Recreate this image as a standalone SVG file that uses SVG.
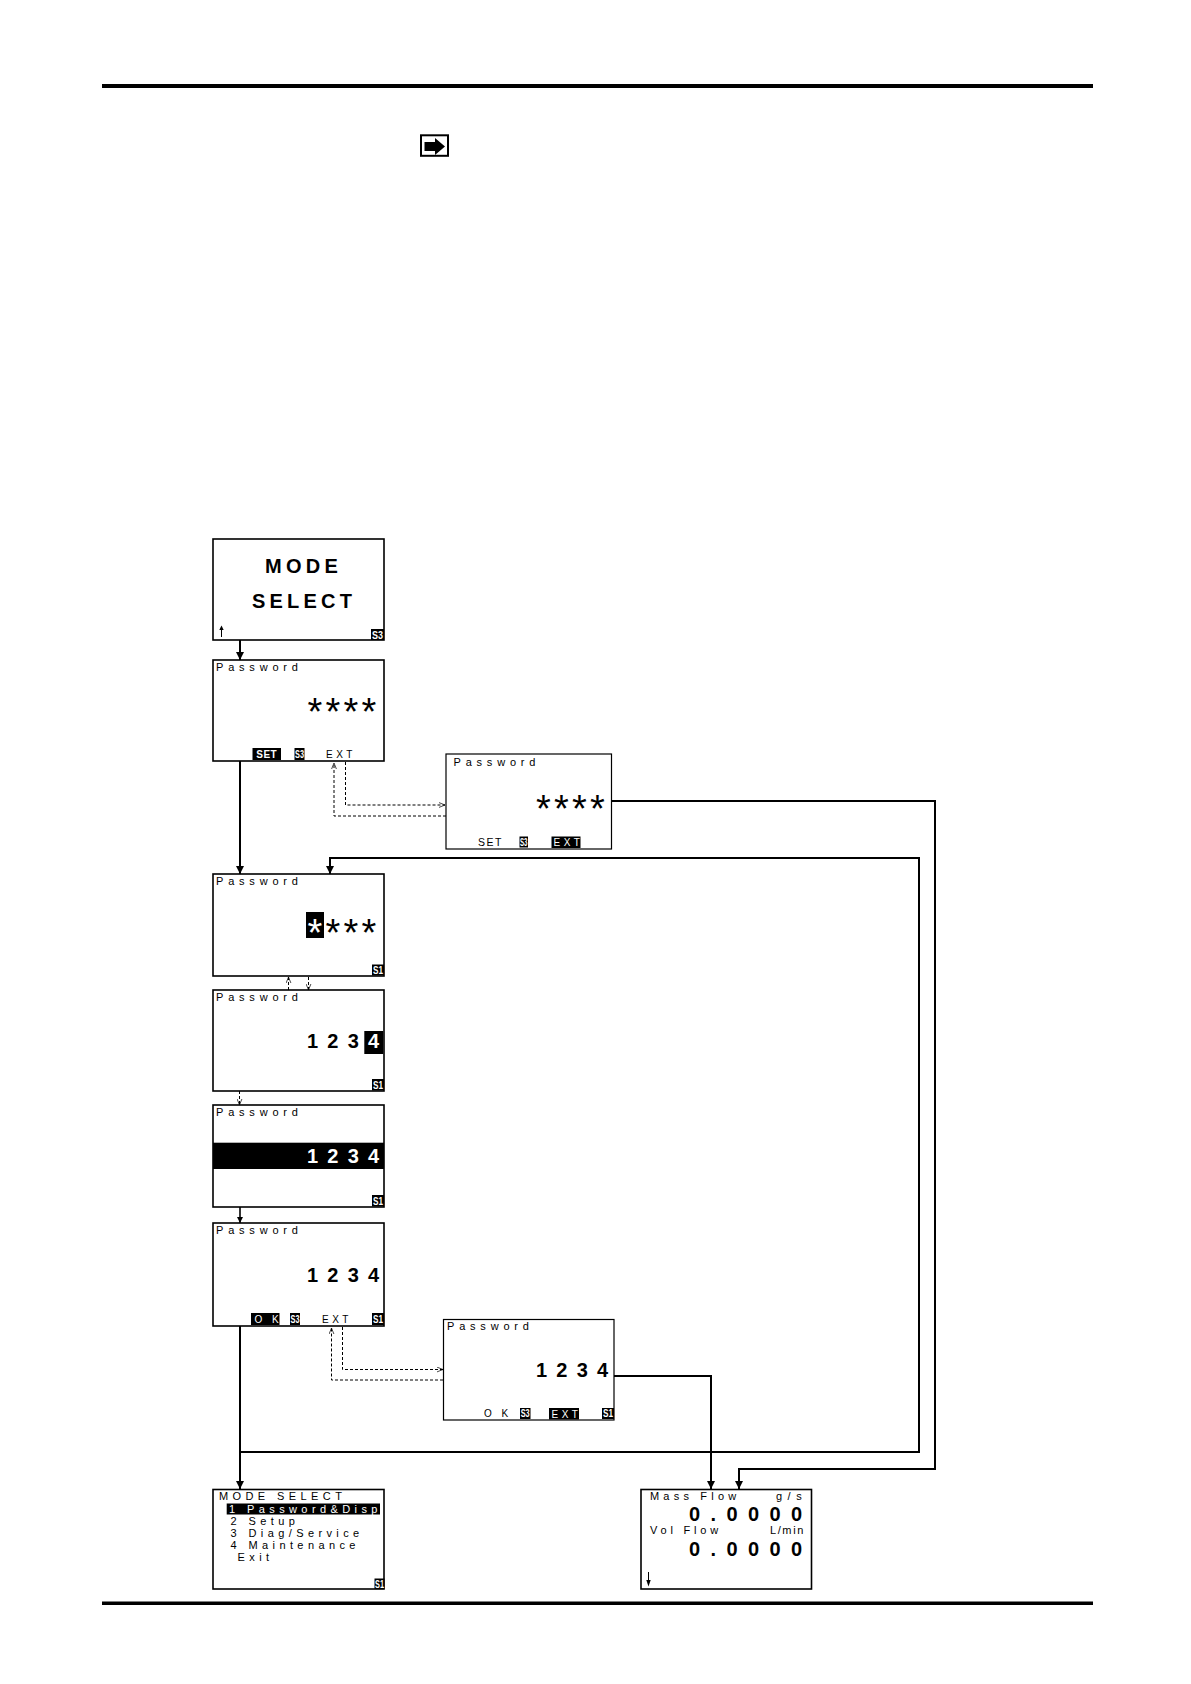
<svg xmlns="http://www.w3.org/2000/svg" width="1191" height="1684" viewBox="0 0 1191 1684">
<style>
.box{fill:#fff;stroke:#000;stroke-width:1.6}
.thin{fill:#fff;stroke:#000;stroke-width:1.2}
.t{font-family:"Liberation Sans",Arial,sans-serif;fill:#000}
.pw{font-size:11px;letter-spacing:4.8px}
.big{font-size:20px;font-weight:bold;letter-spacing:9.2px}
.ast{font-size:38px;letter-spacing:3.2px}
.w{fill:#fff}
.bd{fill:#000}
.bt{font-family:"Liberation Sans",Arial,sans-serif;font-size:10px;font-weight:bold;fill:#fff;text-anchor:middle}
.sm{font-size:10px;letter-spacing:3.5px}
.ls{font-size:11px;letter-spacing:4.4px}
.conn{fill:none;stroke:#000;stroke-width:2}
.dash{fill:none;stroke:#000;stroke-width:1;stroke-dasharray:3 2}
</style>
<defs>
<marker id="ah" viewBox="0 0 10 10" refX="10" refY="5" markerWidth="4" markerHeight="4" orient="auto" markerUnits="strokeWidth"><path d="M0,0 L10,5 L0,10 Z" fill="#000"/></marker>
<marker id="oh" viewBox="0 0 10 10" refX="10" refY="5" markerWidth="6" markerHeight="6" orient="auto" markerUnits="strokeWidth"><path d="M0,1 L10,5 L0,9" fill="none" stroke="#000" stroke-width="1.2"/></marker>
</defs>

<rect x="102" y="84" width="991" height="4" fill="#000"/>
<rect x="102" y="1601.5" width="991" height="3.5" fill="#000"/>
<g id="icon">
<rect x="421" y="135.3" width="27" height="20.5" fill="#fff" stroke="#000" stroke-width="2"/>
<path d="M424.5,142 H435 V138 L445,146.5 L435,155 V151 H424.5 Z" fill="#000"/>
</g>

<g id="connectors">
<path class="conn" d="M240,640 V660" marker-end="url(#ah)"/>
<path class="conn" d="M240,761 V874" marker-end="url(#ah)"/>
<path class="conn" d="M240,1452 H919 V858 H330 V874" marker-end="url(#ah)"/>
<path class="conn" d="M611.5,801 H935 V1469 H739 V1489" marker-end="url(#ah)"/>
<path class="conn" d="M240,1326 V1489" marker-end="url(#ah)"/>
<path class="conn" d="M614,1376 H711 V1489" marker-end="url(#ah)"/>
<path class="conn" d="M240,1207 V1223" style="stroke-width:1.6" marker-end="url(#ah)"/>
<path class="dash" d="M345.5,762 V805 H445" marker-end="url(#oh)"/>
<path class="dash" d="M446,816 H334 V763" marker-end="url(#oh)"/>
<path class="dash" d="M288.5,990 V977" marker-end="url(#oh)"/>
<path class="dash" d="M308.5,977 V990" marker-end="url(#oh)"/>
<path class="dash" d="M239.5,1091 V1105" marker-end="url(#oh)"/>
<path class="dash" d="M342.5,1327 V1369.5 H443" marker-end="url(#oh)"/>
<path class="dash" d="M443,1380 H331.5 V1328" marker-end="url(#oh)"/>
</g>

<g id="n1">
<rect class="box" x="213" y="539" width="171" height="101"/>
<text class="t" x="265" y="573" style="font-size:20px;font-weight:bold;letter-spacing:4.3px">MODE</text>
<text class="t" x="252" y="608" style="font-size:20px;font-weight:bold;letter-spacing:4.2px">SELECT</text>
<path d="M221.5,637 V627" stroke="#000" stroke-width="1"/><path d="M219.3,630 L221.5,625.5 L223.7,630 Z" fill="#000"/>
<rect class="bd" x="371" y="629" width="13" height="11"/><text class="bt" x="377.5" y="638.5" textLength="11" lengthAdjust="spacingAndGlyphs">S3</text>
</g>

<g id="n2">
<rect class="box" x="213" y="660" width="171" height="101"/>
<text class="t pw" x="216" y="670.5">Password</text>
<text class="t ast" x="307.5" y="725">****</text>
<rect class="bd" x="252.5" y="748" width="28.5" height="12"/><text class="bt" x="266.7" y="758" style="letter-spacing:0.5px">SET</text>
<rect class="bd" x="294.5" y="748" width="10" height="12"/><text class="bt" x="299.5" y="757.5" textLength="9" lengthAdjust="spacingAndGlyphs">S3</text>
<text class="t sm" x="326" y="758">EXT</text>
</g>

<g id="n3">
<rect class="thin" x="446" y="754" width="165.5" height="95"/>
<text class="t pw" x="453.5" y="765.5">Password</text>
<text class="t ast" x="536" y="821.7">****</text>
<text class="t" x="478" y="846" style="font-size:10.5px;letter-spacing:1.5px">SET</text>
<rect class="bd" x="519.5" y="836.5" width="8.5" height="11"/><text class="bt" x="523.7" y="845.5" textLength="7.5" lengthAdjust="spacingAndGlyphs">S3</text>
<rect class="bd" x="551.5" y="836.5" width="29" height="11.5"/><text class="t w sm" x="553.5" y="846">EXT</text>
</g>

<g id="n4">
<rect class="box" x="213" y="874" width="171" height="102"/>
<text class="t pw" x="216" y="885">Password</text>
<rect class="bd" x="306" y="912" width="18" height="26"/>
<text class="t ast" x="307.5" y="945.7"><tspan class="w">*</tspan>***</text>
<rect class="bd" x="372" y="964.5" width="12" height="11"/><text class="bt" x="378" y="973.5" textLength="10" lengthAdjust="spacingAndGlyphs">S1</text>
</g>

<g id="n5">
<rect class="box" x="213" y="990" width="171" height="101"/>
<text class="t pw" x="216" y="1001">Password</text>
<rect class="bd" x="364.3" y="1031" width="19" height="23"/>
<text class="t big" x="307" y="1047.7">123<tspan class="w">4</tspan></text>
<rect class="bd" x="372" y="1079" width="12" height="11.5"/><text class="bt" x="378" y="1088.5" textLength="10" lengthAdjust="spacingAndGlyphs">S1</text>
</g>

<g id="n6">
<rect class="box" x="213" y="1105" width="171" height="102"/>
<text class="t pw" x="216" y="1116">Password</text>
<rect class="bd" x="213" y="1142.7" width="171" height="26.3"/>
<text class="t big w" x="307" y="1163">1234</text>
<rect class="bd" x="372" y="1195" width="12" height="11.5"/><text class="bt" x="378" y="1204.5" textLength="10" lengthAdjust="spacingAndGlyphs">S1</text>
</g>

<g id="n7">
<rect class="box" x="213" y="1223" width="171" height="103"/>
<text class="t pw" x="216" y="1234">Password</text>
<text class="t big" x="307" y="1282.3">1234</text>
<rect class="bd" x="251" y="1313" width="28.5" height="12"/><text class="t w" x="254.5" y="1323" style="font-size:10px;letter-spacing:3.5px">O K</text>
<rect class="bd" x="290" y="1313" width="10" height="12"/><text class="bt" x="295" y="1322.5" textLength="9" lengthAdjust="spacingAndGlyphs">S3</text>
<text class="t sm" x="322" y="1323">EXT</text>
<rect class="bd" x="372" y="1313" width="12" height="12"/><text class="bt" x="378" y="1322.5" textLength="10" lengthAdjust="spacingAndGlyphs">S1</text>
</g>

<g id="n8">
<rect class="thin" x="443.5" y="1319.5" width="170.5" height="100.5"/>
<text class="t pw" x="447" y="1329.5">Password</text>
<text class="t big" x="536" y="1376.7">1234</text>
<text class="t" x="484" y="1417" style="font-size:10px;letter-spacing:3.5px">O K</text>
<rect class="bd" x="520" y="1408" width="10.5" height="11"/><text class="bt" x="525.2" y="1417" textLength="9" lengthAdjust="spacingAndGlyphs">S3</text>
<rect class="bd" x="549" y="1408" width="30" height="11.5"/><text class="t w sm" x="551.5" y="1417.5">EXT</text>
<rect class="bd" x="602" y="1408" width="12" height="11"/><text class="bt" x="608" y="1417" textLength="10" lengthAdjust="spacingAndGlyphs">S1</text>
</g>

<g id="n9">
<rect class="box" x="213" y="1489.5" width="171" height="99.5"/>
<text class="t ls" x="219" y="1500">MODE SELECT</text>
<rect class="bd" x="226.7" y="1503.5" width="153.3" height="11"/>
<text class="t ls w" x="229" y="1512.8">1 Password&amp;Disp</text>
<text class="t ls" x="230.5" y="1524.5">2 Setup</text>
<text class="t ls" x="230.5" y="1536.5">3 Diag/Service</text>
<text class="t ls" x="230.5" y="1548.5">4 Maintenance</text>
<text class="t ls" x="237.5" y="1560.5">Exit</text>
<rect class="bd" x="374.5" y="1578.5" width="10" height="10.5"/><text class="bt" x="379.5" y="1587.5" textLength="9" lengthAdjust="spacingAndGlyphs">S1</text>
</g>

<g id="n10">
<rect class="box" x="641" y="1489.5" width="170.5" height="99.5"/>
<text class="t" x="650" y="1500" style="font-size:11px;letter-spacing:4.2px">Mass Flow</text>
<text class="t" x="776" y="1500" style="font-size:11px;letter-spacing:5.5px">g/s</text>
<text class="t" x="689" y="1521" style="font-size:20px;font-weight:bold;letter-spacing:10.4px">0.0000</text>
<text class="t" x="650" y="1533.5" style="font-size:11px;letter-spacing:3.8px">Vol Flow</text>
<text class="t" x="770" y="1533.5" style="font-size:11px;letter-spacing:1.6px">L/min</text>
<text class="t" x="689" y="1556" style="font-size:20px;font-weight:bold;letter-spacing:10.4px">0.0000</text>
<path d="M648.5,1572 V1583" stroke="#000" stroke-width="1"/><path d="M646.3,1580 L648.5,1586.5 L650.7,1580 Z" fill="#000"/>
</g>
</svg>
